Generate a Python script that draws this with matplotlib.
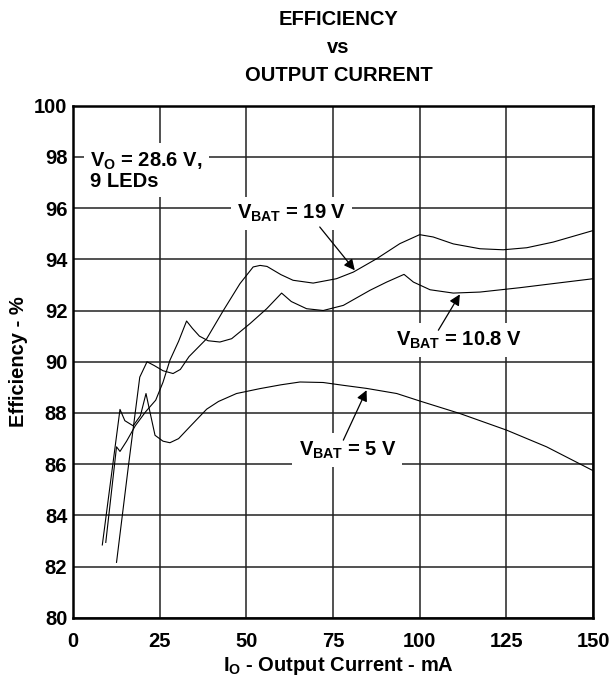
import matplotlib
matplotlib.use("Agg")
import matplotlib.pyplot as plt

plt.rcParams.update({
    "font.family": "Liberation Sans",
    "font.weight": "bold",
    "font.size": 14.5,
    "axes.labelweight": "bold",
    "mathtext.fontset": "custom",
    "mathtext.rm": "Liberation Sans:bold",
    "mathtext.it": "Liberation Sans:bold",
    "mathtext.bf": "Liberation Sans:bold",
})

# ---- data (mA, %) ----
x_19v = [12.6, 16.0, 19.3, 21.4, 23.5, 26.0, 28.9, 31.0, 33.5, 38.6, 43.4, 48.2,
         52.0, 54.0, 56.0, 60.0, 63.5, 69.3, 76.0, 80.9, 87.6, 94.3, 100.0,
         103.9, 109.7, 117.4, 124.1, 130.9, 138.5, 150.0]
y_19v = [82.17, 85.9, 89.4, 90.0, 89.85, 89.65, 89.54, 89.7, 90.2, 90.9, 92.0, 93.05,
         93.7, 93.76, 93.72, 93.4, 93.18, 93.07, 93.24, 93.5, 94.02, 94.61, 94.96,
         94.87, 94.6, 94.41, 94.37, 94.45, 94.67, 95.12]

x_108v = [9.5, 12.6, 13.6, 15.5, 18.0, 21.0, 23.9, 26.0, 28.0, 30.5, 32.8, 34.5,
          36.5, 39.0, 42.4, 45.8, 48.5, 51.1, 55.9, 60.2, 63.0, 67.4, 72.2, 78.0,
          85.7, 90.5, 95.5, 98.2, 103.0, 109.7, 117.4, 128.9, 138.5, 150.0]
y_108v = [82.95, 86.68, 86.5, 86.9, 87.5, 88.05, 88.5, 89.2, 90.06, 90.8, 91.59, 91.3,
          91.0, 90.82, 90.77, 90.9, 91.2, 91.49, 92.07, 92.68, 92.35, 92.07, 92.0, 92.2,
          92.79, 93.11, 93.41, 93.11, 92.81, 92.68, 92.72, 92.89, 93.05, 93.24]

x_5v = [8.5, 13.6, 15.0, 17.4, 19.5, 21.1, 22.3, 23.7, 26.0, 28.0, 30.5, 34.0,
        38.6, 42.0, 47.2, 53.9, 60.0, 65.5, 72.2, 78.0, 84.7, 93.4, 100.0, 111.6,
        125.1, 136.6, 150.0]
y_5v = [82.85, 88.14, 87.7, 87.5, 87.9, 88.76, 88.0, 87.13, 86.9, 86.84, 87.0, 87.5,
        88.15, 88.45, 88.76, 88.95, 89.1, 89.21, 89.19, 89.08, 88.96, 88.76, 88.47, 87.98,
        87.33, 86.68, 85.75]

x_ticks = [0, 25, 50, 75, 100, 125, 150]
y_ticks = [80, 82, 84, 86, 88, 90, 92, 94, 96, 98, 100]

fig = plt.figure(figsize=(6.12, 6.83), dpi=100)
ax = fig.add_axes([0.119, 0.0952, 0.85, 0.7503])

for xs, ys in [(x_19v, y_19v), (x_108v, y_108v), (x_5v, y_5v)]:
    ax.plot(xs, ys, color="black", linewidth=0.8, zorder=3)

ax.set_xlim(0, 150)
ax.set_ylim(80, 100)
ax.set_xticks(x_ticks)
ax.set_yticks(y_ticks)
ax.tick_params(length=0)
ax.tick_params(axis="x", pad=10)
ax.tick_params(axis="y", pad=4)
for lbl in ax.get_xticklabels() + ax.get_yticklabels():
    lbl.set_fontweight("bold")
ax.grid(True, color="#222222", linewidth=1.1, zorder=1)
ax.set_axisbelow(True)
for sp in ax.spines.values():
    sp.set_linewidth(1.8)
    sp.set_zorder(5)

ax.set_xlabel("$I_O$ - Output Current - mA", fontweight="bold")
ax.set_ylabel("Efficiency - %", fontweight="bold")
ax.xaxis.set_label_coords(0.51, -0.072)
ax.yaxis.set_label_coords(-0.086, 0.5)

for ty, line in zip([0.972, 0.931, 0.890], ["EFFICIENCY", "vs", "OUTPUT CURRENT"]):
    fig.text(0.553, ty, line, ha="center", va="center", fontweight="bold")

box = dict(facecolor="white", edgecolor="none", boxstyle="square,pad=0.3")
arrow = dict(arrowstyle="-|>", color="black", linewidth=0.9, mutation_scale=16,
             shrinkA=0, shrinkB=0)

ax.text(5.0, 97.45, "$V_O$ = 28.6 V,\n9 LEDs", ha="left", va="center",
        bbox=box, zorder=4, linespacing=1.05)

ax.text(63.0, 95.58, "$V_{BAT}$ = 19 V", ha="center", va="baseline", bbox=box, zorder=4)
ax.annotate("", xy=(81.3, 93.57), xytext=(71.2, 95.26), arrowprops=arrow, zorder=4)

ax.text(111.2, 90.64, "$V_{BAT}$ = 10.8 V", ha="center", va="baseline", bbox=box, zorder=4)
ax.annotate("", xy=(111.6, 92.63), xytext=(105.4, 91.23), arrowprops=arrow, zorder=4)

ax.text(79.2, 86.35, "$V_{BAT}$ = 5 V", ha="center", va="baseline", bbox=box, zorder=4)
ax.annotate("", xy=(84.7, 88.89), xytext=(78.0, 86.94), arrowprops=arrow, zorder=4)

fig.savefig("out.png", dpi=100)
